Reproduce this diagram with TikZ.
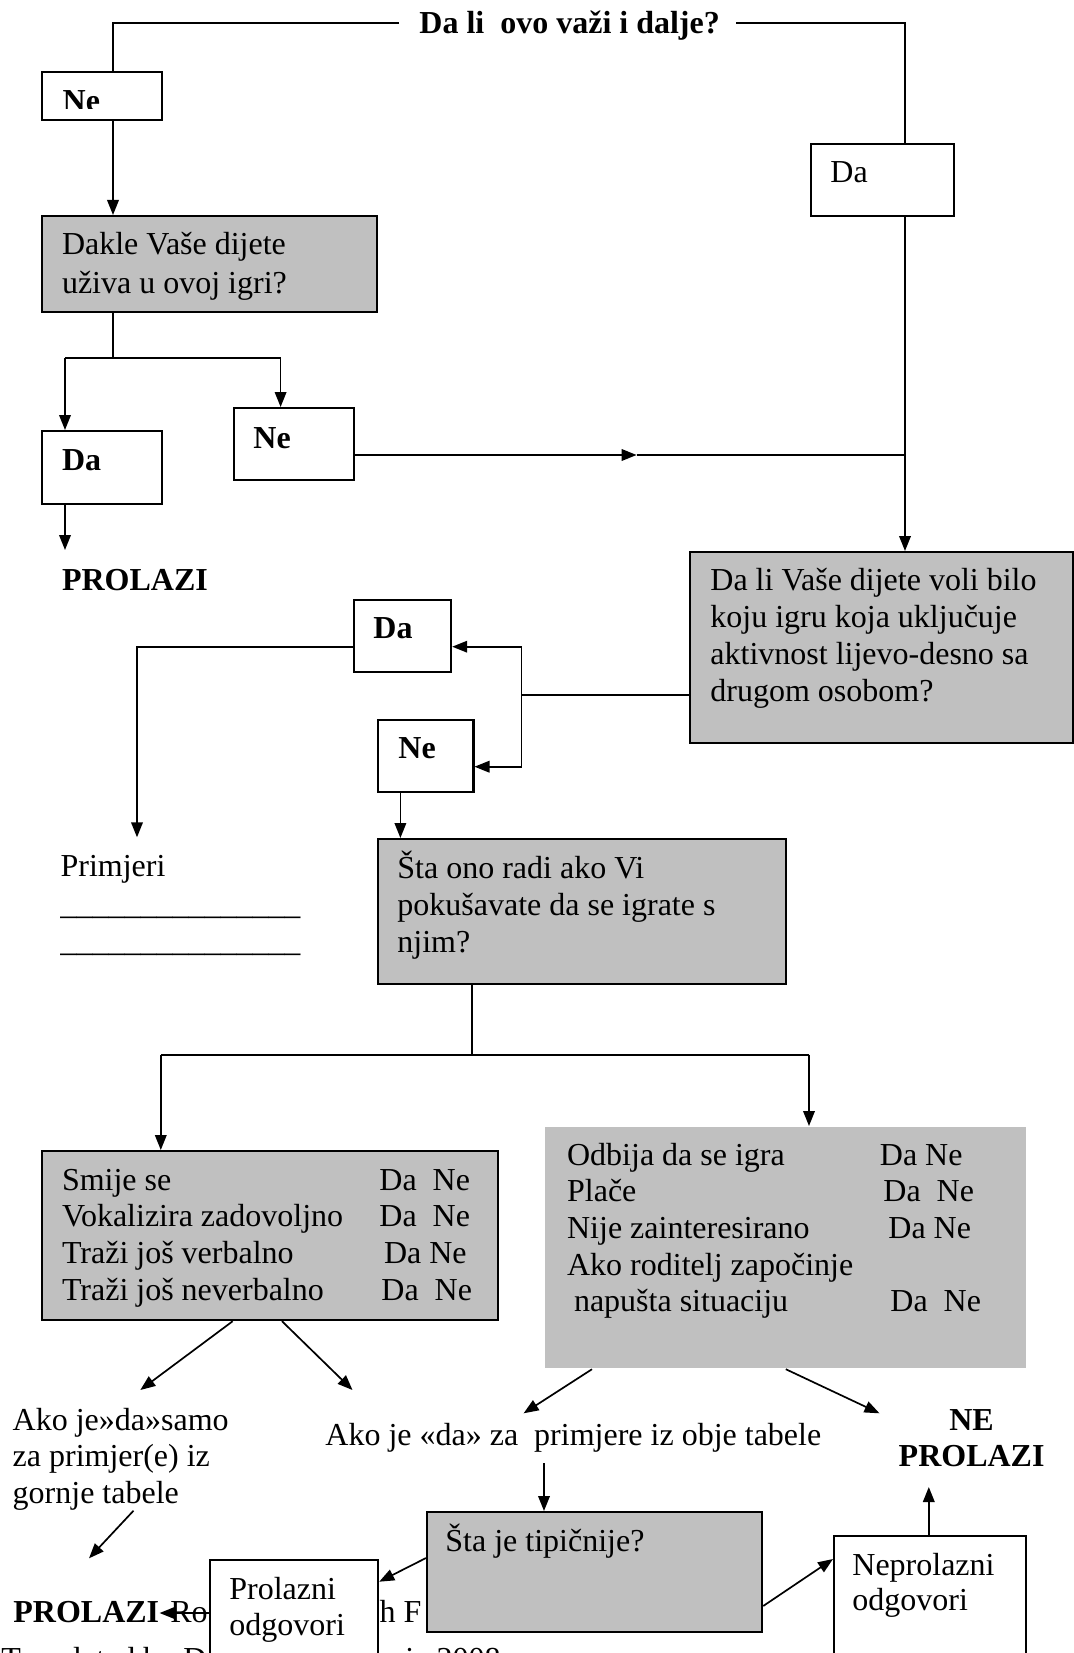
\documentclass[tikz,border=0pt]{standalone}
\usepackage{fontspec}
\setmainfont{Liberation Serif}
\usetikzlibrary{arrows.meta}
\definecolor{boxgray}{HTML}{C0C0C0}
\newcommand\fs{\fontsize{16}{18.5}\selectfont}
\tikzset{
  conn/.style={line width=0.85pt},
  arr/.style={conn,-{Triangle[length=7.5pt,width=5.8pt]}},
  bx/.style={draw,line width=1.1pt,fill=white,inner sep=0pt,anchor=north west},
  gbx/.style={bx,fill=boxgray},
  tx/.style={inner sep=0pt,anchor=base west,font=\fs},
  btx/.style={inner sep=0pt,anchor=base west,font=\fs\bfseries},
}
\begin{document}
\begin{tikzpicture}[x=0.5pt,y=-0.5pt]
\useasboundingbox (0,0) rectangle (1073,1653);

% partly hidden background texts
\node[tx] (ro) at (170,1622) {Ro};
\node[tx] (ahf) at (365,1622) {ah F};
\node[tx] (transl) at (1,1669) {Translated by D};
\node[tx] (yr) at (405,1669) {ic 2008};

% title
\node[btx] (title) at (419,34) {Da li\ \ ovo važi i dalje?};

% boxes
\node[bx,minimum width=60pt,minimum height=24pt] (neTop) at (41,71) {};
\node[bx,minimum width=71.5pt,minimum height=36pt] (daTop) at (810,143) {};
\node[gbx,minimum width=167.5pt,minimum height=48pt] (dakle) at (41,215) {};
\node[bx,minimum width=60pt,minimum height=36.5pt] (daL) at (41,430) {};
\node[bx,minimum width=59.75pt,minimum height=36pt] (neL) at (233,407) {};
\node[gbx,minimum width=191.5pt,minimum height=95.5pt] (voli) at (689,551) {};
\node[bx,minimum width=48.75pt,minimum height=36pt] (daM) at (352.5,599) {};
\node[bx,minimum width=47.9pt,minimum height=36pt] (neM) at (376.5,719) {};
\node[gbx,minimum width=204.25pt,minimum height=72.5pt] (sta) at (376.5,838) {};
\node[gbx,minimum width=228pt,minimum height=84.5pt] (tblL) at (41,1150) {};
\node[gbx,draw=none,minimum width=240.5pt,minimum height=120.5pt] (tblR) at (544,1126) {};
\node[bx,minimum width=96pt,minimum height=82.5pt] (neprol) at (833,1535) {};

% top connectors
\coordinate (tl) at (399,23.3);
\coordinate (tr) at (736,23.3);
\coordinate (xa) at (113,0);
\coordinate (xb) at (905,0);
\draw[conn] (tl) -| (xa |- neTop.north);
\draw[conn] (tr) -| (xb |- daTop.north);
\draw[arr] (xa |- neTop.south) -- (xa |- dakle.north);

% split below Dakle
\coordinate (s1) at (113,358.3);
\coordinate (s1l) at (65,358.3);
\coordinate (s1r) at (280.6,358.3);
\draw[conn] (xa |- dakle.south) -- (s1);
\draw[conn] (s1l) -- (s1r);
\draw[arr] (s1l) -- (s1l |- daL.north);
\draw[arr] (s1r) -- (s1r |- neL.north);
\coordinate (e1) at (65,550);
\draw[arr] (s1l |- daL.south) -- (e1);

% Ne -> right
\coordinate (hm) at (636.6,455);
\draw[arr] (neL.east |- hm) -- (hm);
\draw[conn] (hm) -- (xb |- hm);
\draw[arr] (xb |- daTop.south) -- (xb |- voli.north);

% voli branches
\coordinate (v1) at (521.6,694.7);
\coordinate (v1t) at (521.6,646.7);
\coordinate (v1b) at (521.6,766.7);
\draw[conn] (voli.west |- v1) -- (v1);
\draw[conn] (v1t) -- (v1b);
\draw[arr] (v1t) -- (daM.east |- v1t);
\draw[arr] (v1b) -- (neM.east |- v1b);
\coordinate (pr) at (137,837.3);
\draw[arr] (daM.west |- v1t) -| (pr);
\coordinate (nm) at (400.4,0);
\draw[arr] (nm |- neM.south) -- (nm |- sta.north);

% split below Sta
\coordinate (s2) at (472.3,1054.7);
\coordinate (s2l) at (160.8,1054.7);
\coordinate (s2r) at (809,1054.7);
\draw[conn] (s2 |- sta.south) -- (s2);
\draw[conn] (s2l) -- (s2r);
\draw[arr] (s2l) -- (s2l |- tblL.north);
\draw[arr] (s2r) -- (s2r |- tblR.north);

% diagonal arrows from tables
\coordinate (a1s) at (232.7,0);
\coordinate (a1e) at (140.3,1390);
\coordinate (a2s) at (282,0);
\coordinate (a2e) at (352.5,1390);
\draw[arr] (a1s |- tblL.south) -- (a1e);
\draw[arr] (a2s |- tblL.south) -- (a2e);
\coordinate (a3s) at (592,0);
\coordinate (a3e) at (523.6,1413.3);
\coordinate (a4s) at (785.8,0);
\coordinate (a4e) at (879.5,1413.3);
\draw[arr] (a3s |- tblR.south) -- (a3e);
\draw[arr] (a4s |- tblR.south) -- (a4e);

% lower part
\node[gbx,minimum width=167.5pt,minimum height=60pt] (tip) at (426,1511) {};
\coordinate (dd) at (544,1463.3);
\draw[arr] (dd) -- (dd |- tip.north);
\coordinate (up) at (928.8,1487);
\draw[arr] (up |- neprol.north) -- (up);
\coordinate (g1) at (133.5,1510.7);
\coordinate (g2) at (89,1558.3);
\draw[arr] (g1) -- (g2);
\coordinate (t1) at (0,1558);
\coordinate (t2) at (0,1581.7);
\coordinate (t3) at (0,1606);
\coordinate (t4) at (0,1559);
\node[btx] (prolazi2) at (13,1622) {PROLAZI};
\coordinate (pc) at (0,1613);
\node[bx,minimum width=84pt,minimum height=70.5pt] (prol) at (209,1559) {};
\draw[arr] (prol.west |- pc) -- (prolazi2.east |- pc);
\draw[arr] (tip.west |- t1) -- (prol.east |- t2);
\draw[arr] (tip.east |- t3) -- (neprol.west |- t4);

% texts
\begin{scope}
\clip (41,71) rectangle (161,108.5);
\node[btx] (neTopT) at (62.3,111.5) {Ne};
\end{scope}
\node[tx] (daTopT) at (830,183) {Da};
\node[tx] (dakleT1) at (61.6,255) {Dakle Vaše dijete};
\node[tx] (dakleT2) at (61.6,293) {uživa u ovoj igri?};
\node[btx] (daLT) at (61.6,470.7) {Da};
\node[btx] (neLT) at (253,448.3) {Ne};
\node[btx] (prolazi1) at (61.6,590) {PROLAZI};
\node[tx] (voliT1) at (710,590) {Da li Vaše dijete voli bilo};
\node[tx] (voliT2) at (710,627) {koju igru koja uključuje};
\node[tx] (voliT3) at (710,664) {aktivnost lijevo-desno sa};
\node[tx] (voliT4) at (710,701) {drugom osobom?};
\node[btx] (daMT) at (373,638.3) {Da};
\node[btx] (neMT) at (398,758.3) {Ne};
\node[tx] (primjeri) at (60.2,876.7) {Primjeri};
\node[tx] (line1) at (60,914) {\_\_\_\_\_\_\_\_\_\_\_\_\_\_\_};
\node[tx] (line2) at (60,951.5) {\_\_\_\_\_\_\_\_\_\_\_\_\_\_\_};
\node[tx] (staT1) at (397,878.3) {Šta ono radi ako Vi};
\node[tx] (staT2) at (397,915) {pokušavate da se igrate s};
\node[tx] (staT3) at (397,952.7) {njim?};

\node[tx] (l1) at (61.6,1190) {Smije se};
\node[tx] (l2) at (61.6,1226.7) {Vokalizira zadovoljno};
\node[tx] (l3) at (61.6,1263.3) {Traži još verbalno};
\node[tx] (l4) at (61.6,1300) {Traži još neverbalno};
\node[tx] (l1d) at (379,1190) {Da\ \ Ne};
\node[tx] (l2d) at (379,1226.7) {Da\ \ Ne};
\node[tx] (l3d) at (383.6,1263.3) {Da Ne};
\node[tx] (l4d) at (381,1300) {Da\ \ Ne};

\node[tx] (r1) at (566.7,1165) {Odbija da se igra};
\node[tx] (r2) at (566.7,1201.7) {Plače};
\node[tx] (r3) at (566.7,1238.3) {Nije zainteresirano};
\node[tx] (r4) at (566.7,1275) {Ako roditelj započinje};
\node[tx] (r5) at (573.6,1311.7) {napušta situaciju};
\node[tx] (r1d) at (879.5,1165) {Da Ne};
\node[tx] (r2d) at (883,1201.7) {Da\ \ Ne};
\node[tx] (r3d) at (888,1238.3) {Da Ne};
\node[tx] (r5d) at (890,1311.7) {Da\ \ Ne};

\node[tx] (ako1) at (12.3,1430) {Ako je»da»samo};
\node[tx] (ako2) at (12.3,1466.7) {za primjer(e) iz};
\node[tx] (ako3) at (12.3,1503.3) {gornje tabele};
\node[tx] (ako4) at (325,1445) {Ako je «da» za\ \ primjere iz obje tabele};
\node[btx,anchor=base] (nepT1) at (971.6,1430) {NE};
\node[btx,anchor=base] (nepT2) at (971.6,1466.7) {PROLAZI};

\node[tx] (tipT) at (445,1551.7) {Šta je tipičnije?};
\node[tx] (prolT1) at (229,1599.3) {Prolazni};
\node[tx] (prolT2) at (229,1635) {odgovori};
\node[tx] (neprolT1) at (852,1575) {Neprolazni};
\node[tx] (neprolT2) at (852,1610) {odgovori};
\end{tikzpicture}
\end{document}
